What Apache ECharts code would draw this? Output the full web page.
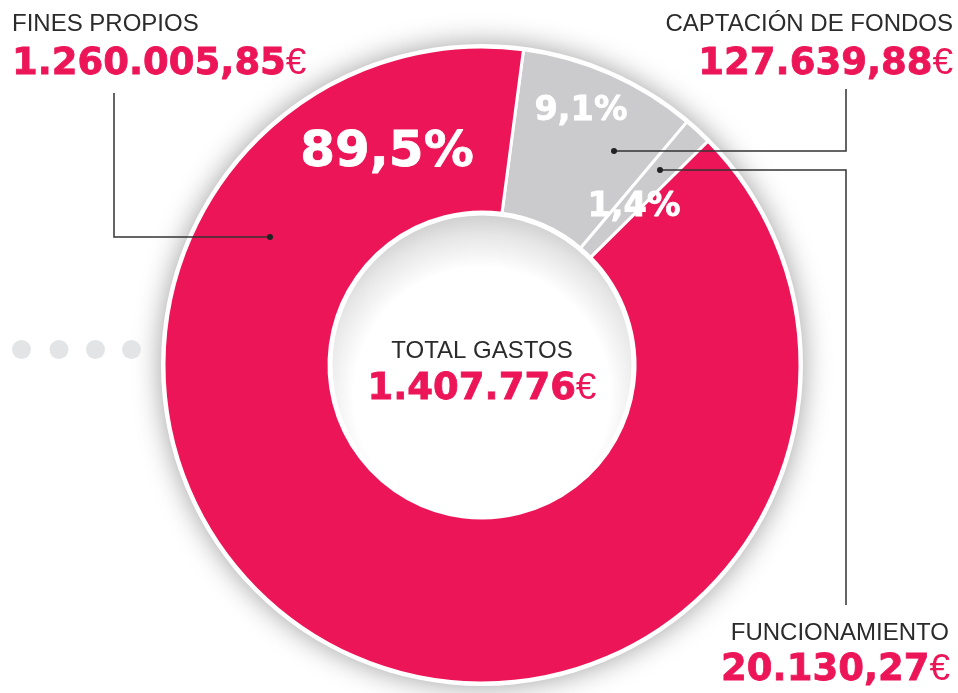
<!DOCTYPE html>
<html>
<head>
<meta charset="utf-8">
<script src="https://cdn.jsdelivr.net/npm/echarts@6/dist/echarts.min.js"></script>
<style>
html,body{margin:0;padding:0;background:#fff;}
#main{width:958px;height:693px;}
</style>
</head>
<body>
<div id="main"></div>
<script>
// ---- DATA ----
var categories = ['CAPTACIÓN DE FONDOS', 'FUNCIONAMIENTO', 'FINES PROPIOS'];
var values = [127639.88, 20130.27, 1260005.85];
var totalLabel = 'TOTAL GASTOS';
var colors = ['#CBCBCD', '#CBCBCD', '#EC1558'];

// ---- helpers ----
function fmt(v, dec) {
  var s = v.toFixed(dec);
  var parts = s.split('.');
  var intPart = parts[0].replace(/\B(?=(\d{3})+(?!\d))/g, '.');
  return dec > 0 ? intPart + ',' + parts[1] : intPart;
}
var total = values.reduce(function (a, b) { return a + b; }, 0);
function pct(v) { return (v / total * 100).toFixed(1).replace('.', ',') + '%'; }

var PINK = '#EC1558';
var DARK = '#2b2b2b';
var cx = 482, cy = 365;

var chart = echarts.init(document.getElementById('main'), null, {renderer: 'canvas'});

var richNum = {
  a: {fontFamily: 'DejaVu Sans', fontWeight: 'bold', fontSize: 37, fill: PINK,
      stroke: PINK, lineWidth: 0.8},
  b: {fontFamily: 'Liberation Sans', fontWeight: 'normal', fontSize: 37, fill: PINK}
};

function bigNum(txt, x, y, align) {
  return {
    type: 'text', x: x, y: y, z: 20,
    style: {
      text: '{a|' + txt + '}{b|€}',
      align: align, verticalAlign: 'middle',
      rich: richNum
    }
  };
}
function label(txt, x, y, align) {
  return {
    type: 'text', x: x, y: y, z: 20,
    style: {text: txt, align: align, verticalAlign: 'middle',
      fontFamily: 'Liberation Sans', fontSize: 24, fill: DARK}
  };
}
function pctText(txt, x, y, size) {
  return {
    type: 'text', x: x, y: y, z: 20,
    style: {text: txt, align: 'center', verticalAlign: 'middle',
      fontFamily: 'DejaVu Sans', fontWeight: 'bold', fontSize: size, fill: '#ffffff',
      stroke: '#ffffff', lineWidth: 0.8}
  };
}
function leader(points) {
  return {
    type: 'polyline', z: 20,
    shape: {points: points},
    style: {stroke: '#333', lineWidth: 1.5, fill: null}
  };
}
function dot(x, y, r, color) {
  return {type: 'circle', z: 20, shape: {cx: x, cy: y, r: r}, style: {fill: color}};
}

var graphics = [
  // dots on left
  dot(21.5, 349.5, 9.5, '#E3E4E6'),
  dot(59, 349.5, 9.5, '#E3E4E6'),
  dot(95.5, 349.5, 9.5, '#E3E4E6'),
  dot(131.5, 349.5, 9.5, '#E3E4E6'),
  // category labels and values
  label(categories[2], 12, 24, 'left'),
  bigNum(fmt(values[2], 2), 12, 64, 'left'),
  label(categories[0], 953, 24, 'right'),
  bigNum(fmt(values[0], 2), 953, 64, 'right'),
  label(categories[1], 949, 633, 'right'),
  bigNum(fmt(values[1], 2), 950, 670, 'right'),
  // center
  label(totalLabel, cx, 351, 'center'),
  {
    type: 'text', x: cx, y: 389, z: 20,
    style: {
      text: '{a|' + fmt(total, 0) + '}{b|€}', align: 'center', verticalAlign: 'middle',
      rich: richNum
    }
  },
  // percentages
  pctText(pct(values[2]), 387, 153, 50),
  pctText(pct(values[0]), 581, 111, 33.5),
  pctText(pct(values[1]), 634, 207, 33.5),
  // leader lines
  leader([[114, 93], [114, 237], [270, 237]]),
  dot(270, 237, 3, '#222'),
  leader([[614, 151], [846, 151], [846, 89]]),
  dot(614, 151, 3, '#222'),
  leader([[660, 170], [846, 170], [846, 605]]),
  dot(660, 170, 3, '#222')
];

var option = {
  animation: false,
  backgroundColor: '#ffffff',
  series: [
    {
      // white backing disc with drop shadow
      type: 'pie', silent: true, z: 1,
      center: [cx, cy], radius: [0, 321],
      label: {show: false}, labelLine: {show: false},
      itemStyle: {color: '#ffffff', shadowBlur: 28, shadowColor: 'rgba(0,0,0,0.38)'},
      data: [{value: 1, name: 'bg'}]
    },
    {
      type: 'pie', silent: true, z: 2,
      center: [cx, cy], radius: [153, 318],
      startAngle: 82.5, clockwise: true,
      label: {show: false}, labelLine: {show: false},
      itemStyle: {borderColor: '#ffffff', borderWidth: 3},
      data: categories.map(function (c, i) {
        return {name: c, value: values[i], itemStyle: {color: colors[i]}};
      })
    },
    {
      // inner disc with soft inner shading
      type: 'pie', silent: true, z: 3,
      center: [cx, cy], radius: [0, 151],
      label: {show: false}, labelLine: {show: false},
      itemStyle: {
        borderColor: '#ffffff', borderWidth: 3,
        color: {
          type: 'radial', x: 0.5, y: 0.6, r: 0.6,
          colorStops: [
            {offset: 0, color: '#ffffff'},
            {offset: 0.7, color: '#ffffff'},
            {offset: 0.88, color: '#e6e6e6'},
            {offset: 1, color: '#cdcdcd'}
          ]
        }
      },
      data: [{value: 1, name: 'inner'}]
    }
  ],
  graphic: graphics
};
chart.setOption(option);
</script>
</body>
</html>
